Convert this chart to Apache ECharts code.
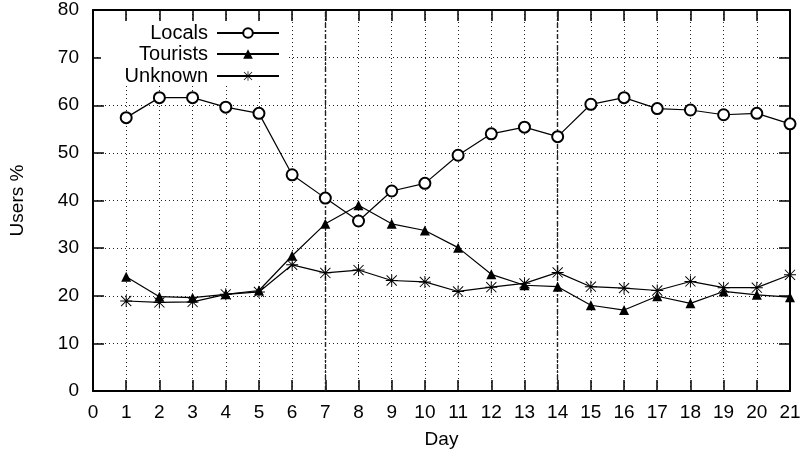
<!DOCTYPE html>
<html>
<head>
<meta charset="utf-8">
<script src="https://cdn.jsdelivr.net/npm/echarts@6/dist/echarts.min.js"></script>
<style>
html,body{margin:0;padding:0;background:#fff;}
#chart{width:804px;height:457px;}
</style>
</head>
<body>
<div id="chart"></div>
<script>
const days = [1,2,3,4,5,6,7,8,9,10,11,12,13,14,15,16,17,18,19,20,21];
const locals = [57.4,61.6,61.6,59.6,58.3,45.4,40.5,35.7,42.0,43.6,49.5,54.0,55.4,53.4,60.2,61.6,59.3,59.0,58.0,58.3,56.1];
const tourists = [24.0,19.8,19.6,20.3,21.1,28.4,35.1,39.0,35.1,33.7,30.1,24.5,22.2,21.9,18.0,17.0,19.9,18.4,20.9,20.2,19.7];
const unknown = [18.9,18.6,18.7,20.3,20.8,26.5,24.8,25.4,23.2,22.9,20.9,21.8,22.6,24.9,21.9,21.6,21.1,23.0,21.7,21.7,24.4];
const seriesNames = ['Locals','Tourists','Unknown'];
const markDays = [7,14];
const xName = 'Day';
const yName = 'Users %';

const FONT = '"Liberation Sans", Arial, sans-serif';
const pair = arr => days.map((d,i)=>[d,arr[i]]);
const asterisk = 'path://M0 9.2 L20 9.2 L20 10.8 L0 10.8 Z M9.2 0 L10.8 0 L10.8 20 L9.2 20 Z M2.1 1 L19 17.9 L17.9 19 L1 2.1 Z M17.9 1 L19 2.1 L2.1 19 L1 17.9 Z';

const lineStyle = {color:'#000', width:1.2};
const chart = echarts.init(document.getElementById('chart'), null, {renderer:'canvas'});
const tick = () => ({show:true, inside:true, length:11, lineStyle:{color:'#000', width:1.5}});
const gridLine = () => ({show:true, lineStyle:{color:'#222', width:1, type:[1,3]}});
const axLine = () => ({show:true, onZero:false, lineStyle:{color:'#000', width:2}});

function legendFor(name, top) {
  return {
    data:[name], orient:'vertical', right: 524, top: top,
    align:'right', itemWidth:62, itemHeight:12, padding:0,
    textStyle:{fontFamily:FONT, fontSize:20, color:'#000', padding:[0,4,0,0]},
    inactiveColor:'#000', selectedMode:false
  };
}

chart.setOption({
  animation:false,
  backgroundColor:'#fff',
  grid:{left:90, right:14, top:10, bottom:66, containLabel:false},
  legend:[legendFor(seriesNames[0], 23), legendFor(seriesNames[1], 44), legendFor(seriesNames[2], 66)],
  graphic:[{type:'rect', shape:{x:101, y:22, width:187, height:64}, style:{fill:'#fff'}, z:3, silent:true}],
  xAxis:[
    {type:'value', min:0, max:21, interval:1, position:'bottom',
     name:xName, nameLocation:'middle', nameGap:39,
     nameTextStyle:{fontFamily:FONT, fontSize:19, color:'#000'},
     axisLine:axLine(), axisTick:tick(),
     axisLabel:{fontFamily:FONT, fontSize:19, color:'#000', margin:12},
     splitLine:{show:false}},
    {type:'value', min:0, max:21, interval:1, position:'top',
     axisLine:axLine(), axisTick:tick(), axisLabel:{show:false}, splitLine:{show:false}},
    {type:'value', min:0, max:21, interval:1, position:'bottom',
     axisLine:{show:false}, axisTick:{show:false}, axisLabel:{show:false}, splitLine:gridLine()}
  ],
  yAxis:[
    {type:'value', min:0, max:80, interval:10, position:'left',
     name:yName, nameLocation:'middle', nameGap:66, nameRotate:90,
     nameTextStyle:{fontFamily:FONT, fontSize:19, color:'#000'},
     axisLine:axLine(), axisTick:tick(),
     axisLabel:{fontFamily:FONT, fontSize:19, color:'#000', margin:14},
     splitLine:{show:false}},
    {type:'value', min:0, max:80, interval:10, position:'right',
     axisLine:axLine(), axisTick:tick(), axisLabel:{show:false}, splitLine:{show:false}},
    {type:'value', min:0, max:80, interval:10, position:'left',
     axisLine:{show:false}, axisTick:{show:false}, axisLabel:{show:false}, splitLine:gridLine()}
  ],
  series:[
    {name:seriesNames[0], type:'line', data:pair(locals), symbol:'emptyCircle', symbolSize:11,
     lineStyle:lineStyle, itemStyle:{color:'#000', borderColor:'#000', borderWidth:1.2},
     z:5,
     markLine:{silent:true, symbol:['none','none'], label:{show:false},
       lineStyle:{color:'#222', width:1.4, type:[5,2,2,2]},
       data: markDays.map(d=>({xAxis:d}))}},
    {name:seriesNames[1], type:'line', data:pair(tourists), symbol:'triangle', symbolSize:10,
     lineStyle:lineStyle, itemStyle:{color:'#000'}, z:5},
    {name:seriesNames[2], type:'line', data:pair(unknown), symbol:asterisk, symbolSize:12,
     lineStyle:lineStyle, itemStyle:{color:'#000'}, z:5}
  ]
});
</script>
</body>
</html>
